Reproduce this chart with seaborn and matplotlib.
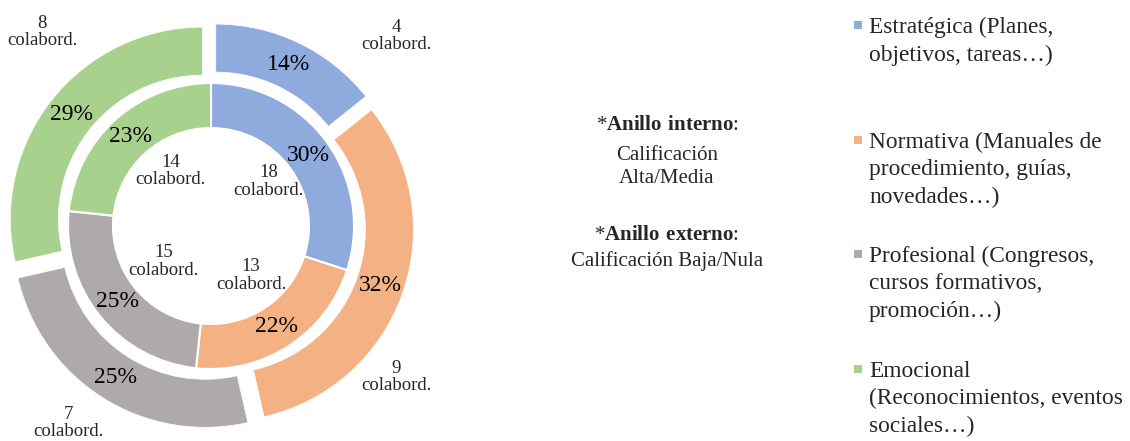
import numpy as np
import matplotlib.pyplot as plt
import seaborn as sns

# datos
categorias = [
    "Estratégica (Planes,\nobjetivos, tareas…)",
    "Normativa (Manuales de\nprocedimiento, guías,\nnovedades…)",
    "Profesional (Congresos,\ncursos formativos,\npromoción…)",
    "Emocional\n(Reconocimientos, eventos\nsociales…)",
]
interno = [18, 13, 15, 14]   # calificación alta/media
externo = [4, 9, 7, 8]       # calificación baja/nula
colores = ["#8FAADC", "#F4B183", "#AEAAAA", "#A9D18E"]

sns.set_theme(style="white")
plt.rcParams['font.family'] = ['Liberation Serif', 'DejaVu Serif']
plt.rcParams['mathtext.fontset'] = 'custom'
plt.rcParams['mathtext.rm'] = 'Liberation Serif'
plt.rcParams['mathtext.bf'] = 'Liberation Serif:bold'

W, H = 1130, 441
fig = plt.figure(figsize=(W / 100, H / 100), dpi=100)
ax = fig.add_axes([0, 0, 1, 1])


def Y(y):
    # pixel desde arriba -> coordenada de datos
    return H - y


cx, cy = 211, Y(226)

# anillo interno
ax.pie(interno, colors=colores, radius=143, center=(cx, cy),
       startangle=90, counterclock=False,
       wedgeprops=dict(width=45, edgecolor='white', linewidth=1.5),
       autopct='%1.0f%%', pctdistance=0.84,
       textprops=dict(fontsize=17, color='black'))

# anillo externo (separado)
ax.pie(externo, colors=colores, radius=192, center=(cx, cy),
       startangle=90, counterclock=False, explode=[11] * len(externo),
       wedgeprops=dict(width=48, edgecolor='white', linewidth=0.5),
       autopct='%1.0f%%', pctdistance=0.875,
       textprops=dict(fontsize=17, color='black'))


def mid_angles(vals):
    v = np.asarray(vals, float)
    fr = v / v.sum()
    start = 90 - 360 * np.concatenate([[0], np.cumsum(fr)[:-1]])
    return np.deg2rad(start - 180 * fr)


# etiquetas de colaboradores (anillo interno)
for n, a in zip(interno, mid_angles(interno)):
    ax.text(cx + 66 * np.cos(a) + 4, cy + 66 * np.sin(a) + 6, f"{n}\ncolabord.",
            ha='center', va='center', fontsize=13.5, linespacing=1.05)

# etiquetas de colaboradores (anillo externo), colocadas a mano
pos_ext = [(396, 36), (396, 377), (68, 423), (42, 32)]
for n, (px, py) in zip(externo, pos_ext):
    ax.text(px, Y(py), f"{n}\ncolabord.", ha='center', va='center',
            fontsize=13.5, linespacing=1.05)

# nota central
ax.text(667, Y(125), r"*$\mathbf{Anillo\ interno}$:", ha='center', va='center', fontsize=15)
ax.text(667, Y(167), "Calificación\nAlta/Media", ha='center', va='center',
        fontsize=15, linespacing=1.3)
ax.text(667, Y(236), r"*$\mathbf{Anillo\ externo}$:", ha='center', va='center', fontsize=15)
ax.text(667, Y(261), "Calificación Baja/Nula", ha='center', va='center', fontsize=15)

# leyenda
baselines = [33, 148, 262, 377]
for lab, col, b in zip(categorias, colores, baselines):
    ax.scatter([858], [Y(b - 8)], marker='s', s=26, color=col, linewidths=0)
    ax.text(869, Y(b - 16), lab, ha='left', va='top', fontsize=16.8, linespacing=1.38)

ax.set_xlim(0, W)
ax.set_ylim(0, H)
ax.set_aspect('equal')
ax.axis('off')

plt.savefig("out.png", dpi=100, facecolor='white')
